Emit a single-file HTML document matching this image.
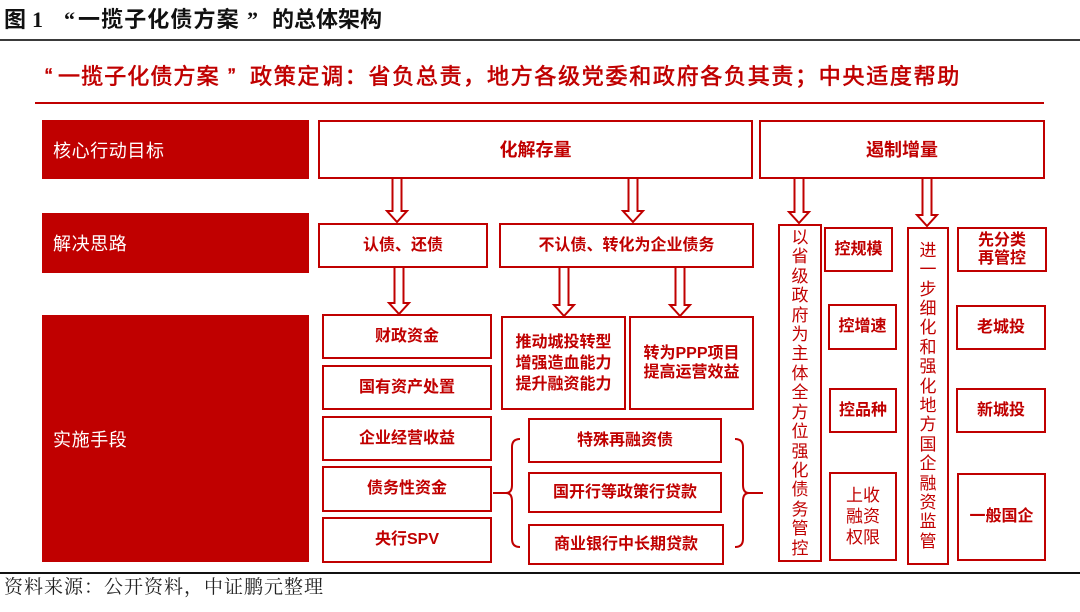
<!DOCTYPE html>
<html><head><meta charset="utf-8">
<style>
html,body{margin:0;padding:0;background:#fff;}
#c{position:relative;width:1080px;height:612px;overflow:hidden;background:#fff;font-family:"Liberation Sans","Noto Sans CJK SC",sans-serif;}
.a{position:absolute;white-space:nowrap;}
.b{position:absolute;box-sizing:border-box;border:2px solid #c00000;background:#fff;display:flex;align-items:center;justify-content:center;text-align:center;color:#c00000;font-weight:bold;font-size:16px;line-height:20px;}
.l{position:absolute;box-sizing:border-box;background:#c00000;color:#fff;font-size:18px;letter-spacing:0.6px;padding-left:11px;display:flex;align-items:center;}
.v{font-weight:normal;font-size:17px;line-height:19.4px;}
.t{font-family:"Liberation Serif","Noto Sans CJK SC",sans-serif;font-weight:bold;font-size:22px;line-height:22px;color:#111;}
.s{font-size:22px;line-height:22px;color:#c00000;-webkit-text-stroke:0.6px #c00000;}
</style></head><body>
<div id="c">
<!-- title -->
<span class="a t" style="left:4px;top:9px;">图</span>
<span class="a t" style="left:32px;top:9px;">1</span>
<span class="a t" style="left:64px;top:9px;">“</span>
<span class="a t" style="left:78px;top:9px;letter-spacing:1.1px;">一揽子化债方案</span>
<span class="a t" style="left:247px;top:9px;">”</span>
<span class="a t" style="left:272px;top:9px;">的总体架构</span>
<div class="a" style="left:0;top:38.5px;width:1080px;height:2.5px;background:#3a3a3a;"></div>

<!-- subtitle -->
<span class="a s" style="left:45px;top:66px;">“</span>
<span class="a s" style="left:58px;top:66px;letter-spacing:1.1px;">一揽子化债方案</span>
<span class="a s" style="left:228px;top:66px;">”</span>
<span class="a s" style="left:250px;top:66px;letter-spacing:1.7px;">政策定调：省负总责，地方各级党委和政府各负其责；中央适度帮助</span>
<div class="a" style="left:35px;top:101.5px;width:1009px;height:2.5px;background:#c00000;"></div>

<!-- left labels -->
<div class="l" style="left:42px;top:120px;width:267px;height:59px;">核心行动目标</div>
<div class="l" style="left:42px;top:213px;width:267px;height:60px;">解决思路</div>
<div class="l" style="left:42px;top:315px;width:267px;height:247px;">实施手段</div>

<!-- top row -->
<div class="b" style="left:318px;top:120px;width:435px;height:59px;font-size:18px;">化解存量</div>
<div class="b" style="left:759px;top:120px;width:286px;height:59px;font-size:18px;">遏制增量</div>

<!-- row 2 -->
<div class="b" style="left:318px;top:223px;width:170px;height:45px;">认债、还债</div>
<div class="b" style="left:499px;top:223px;width:255px;height:45px;">不认债、转化为企业债务</div>

<!-- row 3 left -->
<div class="b" style="left:322px;top:314px;width:170px;height:45px;">财政资金</div>
<div class="b" style="left:322px;top:365px;width:170px;height:45px;">国有资产处置</div>
<div class="b" style="left:322px;top:416px;width:170px;height:45px;">企业经营收益</div>
<div class="b" style="left:322px;top:466px;width:170px;height:46px;">债务性资金</div>
<div class="b" style="left:322px;top:517px;width:170px;height:46px;">央行SPV</div>

<div class="b" style="left:501px;top:316px;width:125px;height:94px;line-height:21px;">推动城投转型<br>增强造血能力<br>提升融资能力</div>
<div class="b" style="left:629px;top:316px;width:125px;height:94px;line-height:19px;">转为PPP项目<br>提高运营效益</div>

<div class="b" style="left:528px;top:418px;width:194px;height:45px;">特殊再融资债</div>
<div class="b" style="left:528px;top:472px;width:194px;height:41px;">国开行等政策行贷款</div>
<div class="b" style="left:528px;top:524px;width:196px;height:41px;">商业银行中长期贷款</div>

<!-- right section -->
<div class="b v" style="left:778px;top:224px;width:44px;height:338px;">以<br>省<br>级<br>政<br>府<br>为<br>主<br>体<br>全<br>方<br>位<br>强<br>化<br>债<br>务<br>管<br>控</div>
<div class="b" style="left:824px;top:227px;width:69px;height:45px;">控规模</div>
<div class="b" style="left:828px;top:304px;width:69px;height:46px;">控增速</div>
<div class="b" style="left:829px;top:388px;width:68px;height:45px;">控品种</div>
<div class="b" style="left:829px;top:472px;width:68px;height:89px;font-weight:normal;font-size:17px;line-height:21px;">上收<br>融资<br>权限</div>

<div class="b v" style="left:907px;top:227px;width:42px;height:338px;">进<br>一<br>步<br>细<br>化<br>和<br>强<br>化<br>地<br>方<br>国<br>企<br>融<br>资<br>监<br>管</div>
<div class="b" style="left:957px;top:227px;width:90px;height:45px;line-height:18px;">先分类<br>再管控</div>
<div class="b" style="left:956px;top:305px;width:90px;height:45px;">老城投</div>
<div class="b" style="left:956px;top:388px;width:90px;height:45px;">新城投</div>
<div class="b" style="left:957px;top:473px;width:89px;height:88px;">一般国企</div>

<!-- arrows & braces -->
<svg class="a" style="left:0;top:0;" width="1080" height="612" viewBox="0 0 1080 612">
<g fill="#fff" stroke="#c00000" stroke-width="2" stroke-linejoin="miter">
<path d="M392.5,179 L392.5,211 L387,211 L397,222 L407,211 L401.5,211 L401.5,179"/>
<path d="M628.5,179 L628.5,211 L623,211 L633,222 L643,211 L637.5,211 L637.5,179"/>
<path d="M794.5,179 L794.5,212 L789,212 L799,223 L809,212 L803.5,212 L803.5,179"/>
<path d="M922.5,179 L922.5,215 L917,215 L927,226 L937,215 L931.5,215 L931.5,179"/>
<path d="M394.5,268 L394.5,303 L389,303 L399,314 L409,303 L403.5,303 L403.5,268"/>
<path d="M559.5,268 L559.5,305 L554,305 L564,316 L574,305 L568.5,305 L568.5,268"/>
<path d="M675.5,268 L675.5,305 L670,305 L680,316 L690,305 L684.5,305 L684.5,268"/>
</g>
<g fill="none" stroke="#c00000" stroke-width="2">
<path d="M493,493 L506,493 Q512,493 512,485 L512,447 Q512,439 520,439 M506,493 Q512,493 512,501 L512,539 Q512,547 520,547"/>
<path d="M735,439 Q743,439 743,447 L743,485 Q743,493 749,493 L763,493 M749,493 Q743,493 743,501 L743,539 Q743,547 735,547"/>
</g>
</svg>

<!-- footer -->
<div class="a" style="left:0;top:572px;width:1080px;height:1.5px;background:#111;"></div>
<span class="a" style="left:4px;top:578px;font-family:'Liberation Serif','Noto Serif CJK SC',serif;font-size:19px;line-height:19px;letter-spacing:1px;color:#222;">资料来源：公开资料，中证鹏元整理</span>
</div>
</body></html>
